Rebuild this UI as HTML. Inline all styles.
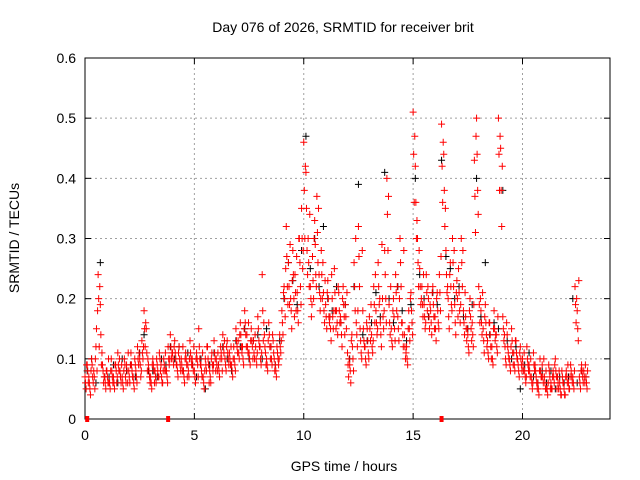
<!DOCTYPE html>
<html><head><meta charset="utf-8">
<style>
body{margin:0;background:#fff;}
svg{display:block;font-family:"Liberation Sans",sans-serif;}
</style></head>
<body>
<svg id="chart" width="640" height="480" viewBox="0 0 640 480">
<rect width="640" height="480" fill="#fff"/>
<g id="grid"></g>
<g id="axes"></g>
<g id="black-series"></g>
<g id="red-series"></g>
<text x="343" y="32" font-size="14" text-anchor="middle">Day 076 of 2026, SRMTID for receiver brit</text>
<text transform="translate(19,238) rotate(-90)" font-size="14" text-anchor="middle">SRMTID / TECUs</text>
<text x="344" y="471" font-size="14" text-anchor="middle">GPS time / hours</text>
</svg>
<script>
const xTicks=[0,5,10,15,20];
const yTicks=[0,0.1,0.2,0.3,0.4,0.5,0.6];
const yTickLabels=["0","0.1","0.2","0.3","0.4","0.5","0.6"];
// red series, 10 samples per hour (hour index = row)
const redA=[
[.07,.09,.06,.10,.08,.12,.24,.19,.09,.07],[.08,.06,.10,.07,.09,.11,.08,.07,.10,.09],
[.08,.11,.07,.09,.12,.10,.13,.18,.15,.09],[.07,.10,.08,.09,.11,.07,.10,.08,.12,.14],
[.11,.13,.09,.12,.10,.08,.11,.09,.13,.10],[.08,.11,.15,.09,.07,.10,.12,.08,.11,.13],
[.10,.09,.12,.14,.10,.13,.11,.09,.12,.15],[.13,.16,.12,.18,.14,.11,.15,.13,.12,.17],
[.12,.24,.14,.10,.16,.12,.13,.09,.11,.14],[.18,.22,.32,.26,.20,.28,.24,.21,.30,.35],
[.46,.41,.30,.22,.27,.33,.37,.24,.28,.21],[.19,.23,.17,.20,.25,.18,.21,.16,.22,.19],
[.11,.09,.14,.26,.16,.32,.13,.18,.12,.15],[.17,.14,.22,.18,.26,.16,.20,.28,.40,.19],
[.15,.20,.24,.17,.30,.16,.14,.12,.18,.21],[.51,.42,.30,.25,.22,.19,.24,.20,.18,.22],
[.17,.21,.24,.49,.44,.28,.20,.26,.30,.19],[.23,.21,.30,.18,.17,.14,.20,.16,.43,.50],
[.22,.18,.15,.19,.13,.16,.12,.18,.14,.50],[.45,.17,.12,.14,.10,.15,.11,.13,.09,.12],
[.10,.08,.12,.09,.07,.11,.08,.06,.10,.09],[.07,.05,.09,.06,.08,.10,.07,.06,.08,.05],
[.08,.06,.09,.07,.22,.18,.07,.09,.08,.07]];
const redB=[
[.05,.06,.04,.07,.05,.08,.12,.09,.06,.05],[.06,.05,.07,.05,.06,.08,.06,.05,.07,.06],
[.06,.08,.05,.07,.09,.07,.10,.12,.08,.07],[.05,.08,.06,.07,.08,.06,.08,.07,.09,.10],
[.09,.10,.07,.09,.08,.06,.09,.07,.10,.08],[.06,.09,.10,.07,.05,.08,.09,.06,.08,.10],
[.08,.07,.10,.11,.08,.10,.09,.07,.09,.12],[.10,.12,.09,.14,.11,.09,.12,.10,.09,.13],
[.09,.13,.11,.08,.12,.09,.10,.07,.09,.11],[.14,.17,.22,.19,.15,.20,.18,.16,.22,.25],
[.30,.28,.22,.17,.20,.24,.26,.18,.20,.16],[.15,.17,.13,.15,.18,.14,.16,.12,.17,.15],
[.07,.06,.10,.18,.12,.22,.10,.13,.09,.11],[.13,.11,.16,.14,.19,.12,.15,.20,.28,.14],
[.12,.15,.18,.13,.22,.12,.10,.09,.13,.16],[.36,.30,.22,.19,.17,.15,.18,.15,.14,.17],
[.13,.16,.18,.36,.32,.21,.15,.19,.22,.14],[.17,.16,.22,.14,.13,.11,.15,.12,.31,.38],
[.16,.14,.11,.14,.10,.12,.09,.13,.11,.38],[.32,.13,.09,.11,.08,.11,.08,.10,.07,.09],
[.08,.06,.09,.07,.05,.08,.06,.04,.07,.06],[.05,.04,.07,.05,.06,.07,.05,.04,.06,.04],
[.06,.05,.07,.05,.16,.13,.05,.07,.06,.05]];
const redC=[
[.06,.08,.05,.09,.07,.15,.20,.14,.08,.06],[.07,.06,.08,.06,.08,.09,.07,.06,.09,.08],
[.07,.09,.06,.08,.10,.09,.11,.15,.11,.08],[.06,.09,.07,.08,.10,.06,.09,.08,.10,.12],
[.10,.11,.08,.10,.09,.07,.10,.08,.11,.09],[.07,.10,.12,.08,.06,.09,.10,.07,.09,.11],
[.09,.08,.11,.12,.09,.11,.10,.08,.10,.13],[.11,.14,.10,.16,.12,.10,.13,.11,.10,.15],
[.10,.18,.12,.09,.14,.10,.11,.08,.10,.12],[.16,.20,.27,.22,.18,.24,.21,.18,.26,.30],
[.38,.35,.26,.20,.23,.29,.31,.21,.24,.18],[.17,.20,.15,.17,.21,.16,.18,.14,.19,.17],
[.09,.08,.12,.22,.14,.27,.11,.15,.10,.13],[.15,.12,.19,.16,.22,.14,.17,.24,.34,.16],
[.13,.17,.21,.15,.26,.14,.12,.10,.15,.18],[.44,.36,.26,.22,.19,.17,.21,.17,.16,.19],
[.15,.18,.21,.42,.38,.24,.17,.22,.26,.16],[.20,.18,.26,.16,.15,.12,.17,.14,.37,.44],
[.19,.16,.13,.16,.11,.14,.10,.15,.12,.44],[.38,.15,.10,.12,.09,.13,.09,.11,.08,.10],
[.09,.07,.10,.08,.06,.09,.07,.05,.08,.07],[.06,.05,.08,.05,.07,.08,.06,.05,.07,.04],
[.07,.05,.08,.06,.19,.15,.06,.08,.07,.06]];
const redD=[
[.09,.07,.08,.06,.10,.18,.22,.11,.07,.08],[.10,.08,.06,.09,.07,.10,.09,.08,.06,.11],
[.09,.07,.10,.06,.11,.08,.12,.16,.10,.06],[.09,.06,.10,.07,.09,.08,.11,.06,.10,.11],
[.12,.09,.11,.08,.12,.10,.07,.10,.09,.12],[.10,.07,.09,.11,.08,.12,.06,.10,.09,.08],
[.11,.10,.08,.13,.12,.09,.12,.10,.08,.11],[.14,.11,.15,.12,.16,.13,.10,.14,.11,.12],
[.11,.16,.09,.13,.10,.14,.08,.12,.10,.13],[.21,.25,.19,.29,.23,.17,.27,.30,.19,.28],
[.42,.24,.34,.19,.30,.22,.35,.20,.26,.23],[.21,.16,.24,.18,.15,.22,.17,.20,.14,.21],
[.10,.13,.08,.30,.18,.15,.28,.12,.16,.10],[.19,.13,.24,.15,.20,.29,.18,.16,.37,.22],
[.18,.13,.22,.20,.16,.28,.11,.15,.20,.14],[.47,.33,.28,.20,.24,.16,.22,.19,.21,.15],
[.20,.15,.27,.46,.35,.22,.24,.18,.28,.21],[.25,.19,.28,.21,.15,.18,.13,.19,.47,.34],
[.20,.21,.17,.12,.16,.10,.15,.14,.17,.47],[.42,.14,.16,.10,.12,.09,.13,.10,.11,.08],
[.11,.07,.08,.10,.06,.09,.05,.08,.07,.10],[.08,.06,.05,.07,.09,.05,.08,.04,.06,.07],
[.09,.07,.06,.08,.20,.23,.08,.06,.09,.08]];
// black series, 5 samples per hour
const blackV=[
[.08,.10,.06,.26,.07],[.07,.09,.06,.10,.08],[.09,.07,.11,.14,.08],[.08,.07,.10,.09,.12],
[.10,.12,.08,.11,.09],[.07,.10,.05,.09,.11],[.09,.12,.10,.08,.13],[.12,.15,.10,.13,.14],
[.10,.15,.12,.09,.13],[.20,.26,.23,.19,.28],[.47,.25,.30,.22,.32],[.20,.18,.22,.16,.19],
[.10,.22,.39,.14,.13],[.16,.21,.17,.41,.20],[.16,.22,.18,.13,.19],[.40,.24,.20,.17,.21],
[.19,.43,.27,.25,.20],[.22,.17,.15,.19,.40],[.17,.26,.14,.16,.15],[.38,.13,.10,.12,.05],
[.09,.11,.07,.06,.08],[.06,.08,.05,.07,.06],[.07,.20,.06,.08,.07]];
const gapMarks=[0.1,3.8,16.3];

const NS="http://www.w3.org/2000/svg";
const L=85,R=610,T=58,B=419;
const xs=h=>L+(R-L)*h/24;
const ys=v=>B-(B-T)*v/0.6;
function el(tag,attrs,parent){const e=document.createElementNS(NS,tag);for(const k in attrs)e.setAttribute(k,attrs[k]);parent.appendChild(e);return e;}
const grid=document.getElementById('grid'),axes=document.getElementById('axes');
yTicks.forEach((v,i)=>{
  if(i>0&&i<yTicks.length-1){const g=el('line',{x1:L,x2:R,y1:ys(v),y2:ys(v),stroke:'#a0a0a0','stroke-dasharray':'2,3','stroke-width':1},grid);
  
  }
  el('line',{x1:L,x2:L+6,y1:ys(v),y2:ys(v),stroke:'#000'},axes);
  el('line',{x1:R,x2:R-6,y1:ys(v),y2:ys(v),stroke:'#000'},axes);
  const t=el('text',{x:L-9,y:ys(v)+5,'font-size':14,'text-anchor':'end'},axes);t.textContent=yTickLabels[i];
  
  
});
xTicks.forEach(h=>{
  if(h>0){const g=el('line',{x1:xs(h),x2:xs(h),y1:T,y2:B,stroke:'#a0a0a0','stroke-dasharray':'2,3'},grid);
  
  }
  el('line',{x1:xs(h),x2:xs(h),y1:B,y2:B-6,stroke:'#000'},axes);
  el('line',{x1:xs(h),x2:xs(h),y1:T,y2:T+6,stroke:'#000'},axes);
  const t=el('text',{x:xs(h),y:B+21,'font-size':14,'text-anchor':'middle'},axes);t.textContent=String(h);
  
  
});
const frame=el('rect',{x:L,y:T,width:R-L,height:B-T,fill:'none',stroke:'#000'},axes);


function plus(g,x,y,c){el('path',{d:`M${x-3.5},${y}h7M${x},${y-3.5}v7`,stroke:c,'stroke-width':1,fill:'none'},g);}
const bg=document.getElementById('black-series'),rg=document.getElementById('red-series');
blackV.forEach((row,h)=>row.forEach((v,i)=>plus(bg,xs(h+i/5+0.1),ys(v),'#000')));
redA.forEach((row,h)=>row.forEach((v,i)=>plus(rg,xs(h+i/10),ys(v),'#f00')));
redC.forEach((row,h)=>row.forEach((v,i)=>plus(rg,xs(h+i/10+0.025),ys(v),'#f00')));
redB.forEach((row,h)=>row.forEach((v,i)=>plus(rg,xs(h+i/10+0.05),ys(v),'#f00')));
redD.forEach((row,h)=>row.forEach((v,i)=>plus(rg,xs(h+i/10+0.075),ys(v),'#f00')));
gapMarks.forEach(h=>{const m=el('rect',{x:xs(h)-2,y:B-3,width:4,height:6,fill:'#f00'},rg);
  
  });
</script>
</body></html>
